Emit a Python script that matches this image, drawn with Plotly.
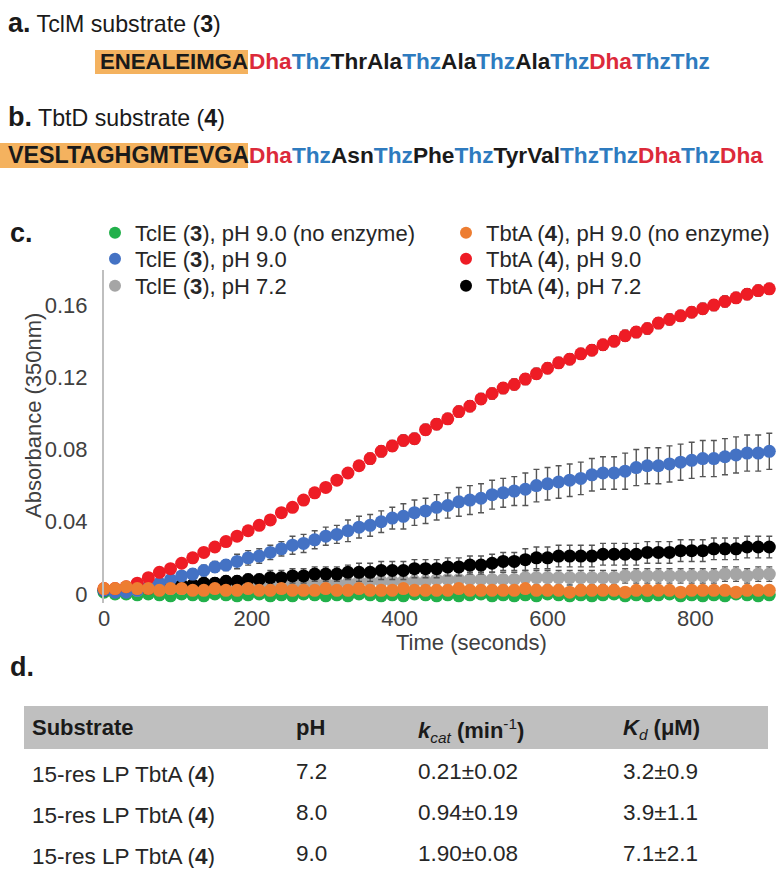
import plotly.graph_objects as go

W, H = 780, 869
FONT = "Liberation Sans, Arial, sans-serif"

# ---------------- data ----------------
time_s = list(range(0, 901, 15))

tcle_noenz = [0.001, 0.000, 0.000, -0.0005, 0.000, -0.0005, -0.001, 0.000, -0.0005, -0.001,
              0.000, -0.0005, -0.001, -0.0005, 0.000, -0.001, -0.0005, -0.001, 0.000, -0.0005,
              -0.001, -0.0005, -0.001, 0.000, -0.0005, -0.001, -0.0005, -0.001, 0.000, -0.0005,
              -0.001, -0.0005, -0.001, -0.0005, 0.000, -0.001, -0.0005, -0.001, -0.0005, -0.001,
              0.000, -0.0005, -0.001, -0.0005, -0.001, -0.0005, 0.000, -0.001, -0.0005, -0.001,
              -0.0005, 0.000, -0.001, -0.0005, -0.001, -0.0005, -0.001, 0.000, -0.0005, -0.001,
              -0.0005]
tbta_noenz = [0.003, 0.003, 0.004, 0.003, 0.003, 0.002, 0.003, 0.003, 0.002, 0.002,
              0.003, 0.002, 0.002, 0.003, 0.002, 0.002, 0.003, 0.002, 0.002, 0.002,
              0.003, 0.002, 0.002, 0.003, 0.002, 0.002, 0.002, 0.003, 0.002, 0.002,
              0.002, 0.002, 0.003, 0.002, 0.002, 0.002, 0.002, 0.002, 0.003, 0.002,
              0.002, 0.002, 0.001, 0.002, 0.002, 0.002, 0.002, 0.001, 0.002, 0.002,
              0.002, 0.002, 0.001, 0.002, 0.002, 0.002, 0.002, 0.001, 0.002, 0.002,
              0.002]
tcle_ph9 = [0.002, 0.001, 0.001, 0.002, 0.004, 0.006, 0.008, 0.010, 0.011, 0.013,
            0.015, 0.016, 0.018, 0.020, 0.021, 0.023, 0.025, 0.027, 0.028, 0.030,
            0.032, 0.033, 0.035, 0.037, 0.038, 0.040, 0.042, 0.043, 0.045, 0.046,
            0.048, 0.049, 0.051, 0.052, 0.053, 0.055, 0.056, 0.057, 0.058, 0.060,
            0.061, 0.062, 0.063, 0.064, 0.066, 0.067, 0.067, 0.068, 0.070, 0.071,
            0.071, 0.072, 0.073, 0.074, 0.075, 0.075, 0.076, 0.077, 0.078, 0.078,
            0.079]
tcle_ph9_err = [0.001, 0.001, 0.001, 0.001, 0.002, 0.002, 0.002, 0.002, 0.003, 0.003,
                0.003, 0.003, 0.004, 0.004, 0.004, 0.004, 0.004, 0.005, 0.005, 0.005,
                0.005, 0.005, 0.006, 0.006, 0.006, 0.006, 0.006, 0.007, 0.007, 0.007,
                0.007, 0.007, 0.008, 0.008, 0.008, 0.008, 0.008, 0.008, 0.009, 0.009,
                0.009, 0.009, 0.009, 0.009, 0.009, 0.009, 0.009, 0.010, 0.010, 0.010,
                0.010, 0.010, 0.010, 0.010, 0.010, 0.010, 0.010, 0.010, 0.010, 0.010,
                0.010]
tbta_ph9 = [0.003, 0.003, 0.004, 0.006, 0.009, 0.012, 0.014, 0.017, 0.020, 0.023,
            0.026, 0.029, 0.032, 0.035, 0.038, 0.041, 0.045, 0.048, 0.052, 0.056,
            0.059, 0.063, 0.067, 0.071, 0.075, 0.079, 0.082, 0.085, 0.086, 0.091,
            0.094, 0.097, 0.101, 0.104, 0.108, 0.111, 0.114, 0.116, 0.119, 0.122,
            0.125, 0.128, 0.130, 0.133, 0.135, 0.138, 0.140, 0.143, 0.145, 0.147,
            0.150, 0.152, 0.154, 0.156, 0.158, 0.160, 0.162, 0.164, 0.166, 0.168,
            0.169]
tbta_ph9_err = [0.001, 0.001, 0.001, 0.001, 0.001, 0.002, 0.002, 0.002, 0.002, 0.002,
                0.002, 0.002, 0.002, 0.002, 0.002, 0.002, 0.002, 0.002, 0.002, 0.002,
                0.002, 0.002, 0.002, 0.002, 0.003, 0.003, 0.003, 0.003, 0.003, 0.003,
                0.003, 0.003, 0.003, 0.003, 0.003, 0.003, 0.003, 0.003, 0.003, 0.003,
                0.003, 0.003, 0.003, 0.003, 0.003, 0.003, 0.003, 0.003, 0.003, 0.003,
                0.003, 0.003, 0.003, 0.003, 0.003, 0.003, 0.003, 0.003, 0.003, 0.003,
                0.003]
tcle_ph72 = [0.002, 0.002, 0.002, 0.002, 0.003, 0.003, 0.003, 0.003, 0.004, 0.004,
             0.004, 0.004, 0.005, 0.005, 0.005, 0.005, 0.005, 0.006, 0.006, 0.006,
             0.006, 0.006, 0.006, 0.007, 0.007, 0.007, 0.007, 0.007, 0.007, 0.007,
             0.008, 0.008, 0.008, 0.008, 0.008, 0.008, 0.008, 0.008, 0.009, 0.009,
             0.009, 0.009, 0.009, 0.009, 0.009, 0.009, 0.009, 0.010, 0.010, 0.010,
             0.010, 0.010, 0.010, 0.010, 0.010, 0.010, 0.011, 0.011, 0.010, 0.011,
             0.011]
tcle_ph72_err = [0.001, 0.001, 0.001, 0.001, 0.001, 0.002, 0.002, 0.002, 0.002, 0.002,
                 0.002, 0.002, 0.002, 0.003, 0.003, 0.003, 0.003, 0.003, 0.003, 0.003,
                 0.003, 0.003, 0.003, 0.003, 0.003, 0.003, 0.003, 0.003, 0.003, 0.003,
                 0.004, 0.004, 0.004, 0.004, 0.004, 0.004, 0.004, 0.004, 0.004, 0.004,
                 0.004, 0.004, 0.004, 0.004, 0.004, 0.004, 0.004, 0.004, 0.004, 0.004,
                 0.004, 0.004, 0.004, 0.004, 0.004, 0.004, 0.004, 0.004, 0.004, 0.004,
                 0.004]
tbta_ph72 = [0.002, 0.002, 0.002, 0.003, 0.003, 0.004, 0.004, 0.005, 0.005, 0.006,
             0.006, 0.007, 0.007, 0.008, 0.008, 0.009, 0.009, 0.010, 0.010, 0.011,
             0.011, 0.011, 0.012, 0.012, 0.012, 0.013, 0.013, 0.013, 0.014, 0.014,
             0.014, 0.015, 0.015, 0.016, 0.016, 0.017, 0.018, 0.018, 0.019, 0.020,
             0.020, 0.021, 0.021, 0.021, 0.021, 0.022, 0.022, 0.022, 0.022, 0.023,
             0.023, 0.023, 0.024, 0.024, 0.024, 0.025, 0.025, 0.025, 0.026, 0.026,
             0.026]
tbta_ph72_err = [0.001, 0.001, 0.001, 0.001, 0.002, 0.002, 0.002, 0.002, 0.002, 0.003,
                 0.003, 0.003, 0.003, 0.003, 0.003, 0.004, 0.004, 0.004, 0.004, 0.004,
                 0.004, 0.004, 0.004, 0.005, 0.005, 0.005, 0.005, 0.005, 0.005, 0.005,
                 0.005, 0.005, 0.005, 0.005, 0.005, 0.005, 0.005, 0.005, 0.006, 0.006,
                 0.006, 0.006, 0.006, 0.006, 0.006, 0.006, 0.006, 0.006, 0.006, 0.006,
                 0.006, 0.006, 0.006, 0.006, 0.006, 0.006, 0.006, 0.006, 0.006, 0.006,
                 0.006]

y_ticks = [0, 0.04, 0.08, 0.12, 0.16]
y_ticktext = ["0", "0.04", "0.08", "0.12", "0.16"]
x_ticks = [0, 200, 400, 600, 800]
x_ticktext = ["0", "200", "400", "600", "800"]

seq_a_lead = "ENEALEIMGA"
seq_a_rest = ["Dha", "Thz", "Thr", "Ala", "Thz", "Ala", "Thz", "Ala", "Thz", "Dha", "Thz", "Thz"]
seq_b_lead = "VESLTAGHGMTEVGA"
seq_b_rest = ["Dha", "Thz", "Asn", "Thz", "Phe", "Thz", "Tyr", "Val", "Thz", "Thz", "Dha", "Thz", "Dha"]
residue_colors = {"Dha": "#dc2a3a", "Thz": "#2e7bbf"}

table_header = ["<b>Substrate</b>", "<b>pH</b>",
                "<b><i>k</i></b><sub><i>cat</i></sub><b> (min</b><sup>-1</sup><b>)</b>",
                "<b><i>K</i></b><sub><i>d</i></sub><b> (μM)</b>"]
table_substrate = ["15-res LP TbtA (<b>4</b>)", "15-res LP TbtA (<b>4</b>)", "15-res LP TbtA (<b>4</b>)"]
table_ph = ["7.2", "8.0", "9.0"]
table_kcat = ["0.21±0.02", "0.94±0.19", "1.90±0.08"]
table_kd = ["3.2±0.9", "3.9±1.1", "7.1±2.1"]

# ---------------- helpers ----------------
def px(x):
    return x / W

def py(y):
    return 1 - y / H

fig = go.Figure()

# (name, values, errors, colour, legend id, legend x, legend row y)
series = [
    ("TclE (<b>3</b>), pH 9.0 (no enzyme)", tcle_noenz, None, "#22b04b", "legend", 95, 233),
    ("TclE (<b>3</b>), pH 7.2", tcle_ph72, tcle_ph72_err, "#a5a5a5", "legend3", 95, 286),
    ("TbtA (<b>4</b>), pH 7.2", tbta_ph72, tbta_ph72_err, "#000000", "legend6", 446, 286),
    ("TclE (<b>3</b>), pH 9.0", tcle_ph9, tcle_ph9_err, "#4472c4", "legend2", 95, 259),
    ("TbtA (<b>4</b>), pH 9.0", tbta_ph9, tbta_ph9_err, "#ee1c25", "legend5", 446, 259),
    ("TbtA (<b>4</b>), pH 9.0 (no enzyme)", tbta_noenz, None, "#ed7d31", "legend4", 446, 233),
]
legend_layouts = {}
for name, ys, err, color, leg, lx, ly in series:
    kw = {}
    if err is not None:
        kw["error_y"] = dict(type="data", array=err, visible=True, color="#555555",
                             thickness=1.4, width=3)
    fig.add_trace(go.Scatter(
        x=time_s, y=ys, mode="markers", name=name,
        marker=dict(size=13, color=color, line=dict(width=0)),
        cliponaxis=False, legend=leg, **kw))
    legend_layouts[leg] = dict(x=px(lx), y=py(ly), xanchor="left", yanchor="middle",
                               bgcolor="rgba(0,0,0,0)", itemsizing="constant",
                               font=dict(size=22, color="#262626"))

fig.add_trace(go.Table(
    domain=dict(x=[px(24), 1.0], y=[0, py(707)]),
    columnwidth=[264, 122, 205, 165],
    header=dict(values=table_header, fill_color="rgba(0,0,0,0)", line_color="rgba(0,0,0,0)",
                align="left", height=46,
                font=dict(family=FONT, size=22, color="#1a1a1a")),
    cells=dict(values=[table_substrate, table_ph, table_kcat, table_kd],
               fill_color="rgba(0,0,0,0)", line_color="rgba(0,0,0,0)", align="left", height=41,
               font=dict(family=FONT, size=22.5, color="#262626")),
))

def seq_html(residues):
    out = []
    for r in residues:
        c = residue_colors.get(r, "#1a1a1a")
        out.append(f"<span style='color:{c}'>{r}</span>")
    return "<b>" + "".join(out) + "</b>"

annotations = [
    dict(text="<span style='font-size:27px'><b>a.</b></span> TclM substrate (<b>3</b>)",
         x=px(6), y=py(23), xanchor="left", yanchor="middle", font=dict(size=23.2, color="#1a1a1a")),
    dict(text=f"<b>{seq_a_lead}</b>", x=px(250), y=py(62), xanchor="right", yanchor="middle",
         font=dict(size=22.2, color="#1a1a1a")),
    dict(text=seq_html(seq_a_rest), x=px(247), y=py(62), xanchor="left", yanchor="middle",
         font=dict(size=22.6)),
    dict(text="<span style='font-size:27px'><b>b.</b></span> TbtD substrate (<b>4</b>)",
         x=px(6), y=py(117), xanchor="left", yanchor="middle", font=dict(size=23.2, color="#1a1a1a")),
    dict(text=f"<b>{seq_b_lead}</b>", x=px(251), y=py(155), xanchor="right", yanchor="middle",
         font=dict(size=23.3, color="#1a1a1a")),
    dict(text=seq_html(seq_b_rest), x=px(247), y=py(155), xanchor="left", yanchor="middle",
         font=dict(size=22.7)),
    dict(text="<b>c.</b>", x=px(8), y=py(233), xanchor="left", yanchor="middle",
         font=dict(size=27, color="#1a1a1a")),
    dict(text="<b>d.</b>", x=px(8), y=py(667), xanchor="left", yanchor="middle",
         font=dict(size=27, color="#1a1a1a")),
    dict(text="Absorbance (350nm)", x=px(33), y=py(416), textangle=-90,
         xanchor="center", yanchor="middle", font=dict(size=22, color="#404040")),
    dict(text="Time (seconds)", x=px(471), y=py(642), xanchor="center", yanchor="middle",
         font=dict(size=22, color="#404040")),
]
for a in annotations:
    a.update(xref="paper", yref="paper", showarrow=False)

shapes = [
    dict(type="rect", xref="paper", yref="paper", x0=px(95), x1=px(248), y0=py(74), y1=py(50),
         fillcolor="#f4b25f", line=dict(width=0), layer="below"),
    dict(type="rect", xref="paper", yref="paper", x0=px(0), x1=px(248), y0=py(168), y1=py(143),
         fillcolor="#f4b25f", line=dict(width=0), layer="below"),
    dict(type="rect", xref="paper", yref="paper", x0=px(24), x1=px(768), y0=py(749), y1=py(706),
         fillcolor="#bfbfbf", line=dict(width=0), layer="below"),
]

fig.update_layout(
    width=W, height=H,
    margin=dict(l=0, r=0, t=0, b=0),
    paper_bgcolor="white", plot_bgcolor="white",
    font=dict(family=FONT, size=22, color="#404040"),
    xaxis=dict(domain=[px(104), px(773)], range=[0, 905], tickvals=x_ticks, ticktext=x_ticktext,
               showgrid=False, zeroline=False, showline=False, ticks="", automargin=False,
               ticklabelstandoff=0, tickfont=dict(size=22, color="#404040")),
    yaxis=dict(domain=[py(603), py(270)], range=[-0.005, 0.1794], tickvals=y_ticks,
               ticktext=y_ticktext, showgrid=False, zeroline=False, showline=True,
               linecolor="#bfbfbf", linewidth=2, ticks="", automargin=False,
               ticklabelstandoff=10, tickfont=dict(size=22, color="#404040")),
    annotations=annotations,
    shapes=shapes,
    showlegend=True,
    **legend_layouts,
)

fig.write_html("out.html", config={"displayModeBar": False},
               post_script="document.body.style.margin='0px';")
